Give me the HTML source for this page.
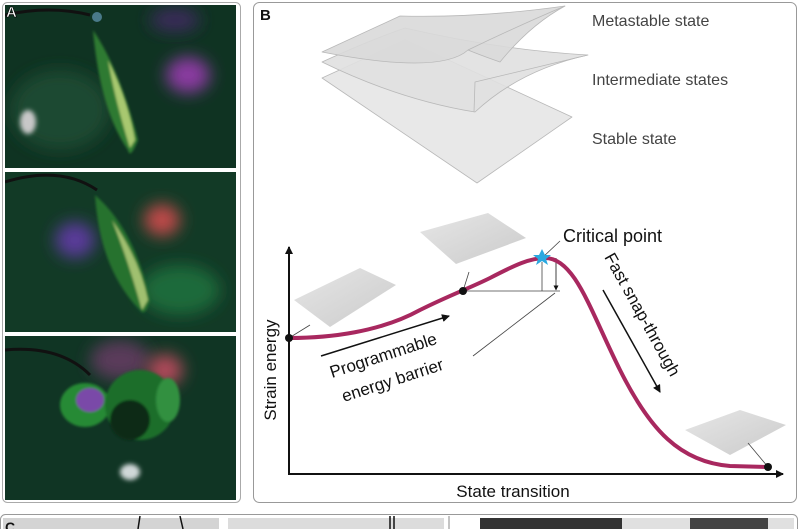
<!DOCTYPE html>
<html><head><style>
html,body{margin:0;padding:0;background:#fff;}
svg{display:block;font-family:"Liberation Sans",Arial,sans-serif;}
</style></head><body>
<svg width="800" height="529" viewBox="0 0 800 529" xmlns="http://www.w3.org/2000/svg">
<defs>
<filter id="b8" x="-50%" y="-50%" width="200%" height="200%"><feGaussianBlur stdDeviation="8"/></filter>
<filter id="b3" x="-50%" y="-50%" width="200%" height="200%"><feGaussianBlur stdDeviation="2.5"/></filter>
<filter id="b1" x="-50%" y="-50%" width="200%" height="200%"><feGaussianBlur stdDeviation="1.2"/></filter>
<clipPath id="p1"><rect x="5" y="5" width="231" height="163"/></clipPath>
<clipPath id="p2"><rect x="5" y="172" width="231" height="160"/></clipPath>
<clipPath id="p3"><rect x="5" y="336" width="231" height="164"/></clipPath>
<marker id="ah" markerWidth="8" markerHeight="8" refX="7" refY="4" orient="auto" markerUnits="userSpaceOnUse"><path d="M0,0 L8,4 L0,8 z" fill="#111"/></marker>
<marker id="ahs" markerWidth="5" markerHeight="5" refX="4.5" refY="2.5" orient="auto" markerUnits="userSpaceOnUse"><path d="M0,0 L5,2.5 L0,5 z" fill="#111"/></marker>
<linearGradient id="sh" x1="0" y1="0" x2="1" y2="1"><stop offset="0" stop-color="#e6e6e6"/><stop offset="1" stop-color="#cbcbcb"/></linearGradient>
</defs>

<!-- Panel A -->
<rect x="2.5" y="2.5" width="238" height="500" rx="5" fill="#fff" stroke="#aaa"/>
<g clip-path="url(#p1)">
 <rect x="5" y="5" width="231" height="163" fill="#0f3322"/>
 <ellipse cx="60" cy="110" rx="50" ry="40" fill="#1f4a30" filter="url(#b8)"/>
 <ellipse cx="28" cy="122" rx="8" ry="12" fill="#c8c8c8" filter="url(#b3)"/>
 <ellipse cx="188" cy="75" rx="22" ry="18" fill="#8a3aa0" filter="url(#b8)"/>
 <ellipse cx="175" cy="20" rx="25" ry="12" fill="#3a2a5a" filter="url(#b8)"/>
 <path d="M5,15 Q50,5 90,15" stroke="#111" stroke-width="3" fill="none"/>
 <circle cx="97" cy="17" r="5" fill="#4a7a8a"/>
 <g filter="url(#b1)">
 <path d="M93,30 Q120,70 138,140 Q130,160 128,150 Q100,110 93,30z" fill="#2e7a30"/>
 <path d="M108,60 Q128,100 135,140 L130,148 Q115,100 108,60z" fill="#a8c870"/>
 </g>
</g>
<g clip-path="url(#p2)">
 <rect x="5" y="172" width="231" height="160" fill="#123a26"/>
 <ellipse cx="75" cy="240" rx="20" ry="18" fill="#5a3a9a" filter="url(#b8)"/>
 <ellipse cx="162" cy="220" rx="18" ry="16" fill="#c04a4a" filter="url(#b8)"/>
 <ellipse cx="180" cy="290" rx="40" ry="25" fill="#1f6a3a" filter="url(#b8)"/>
 <path d="M5,182 Q60,165 97,190" stroke="#111" stroke-width="3" fill="none"/>
 <g filter="url(#b1)">
 <path d="M95,195 Q135,230 150,300 Q145,318 140,310 Q100,270 95,195z" fill="#26722e"/>
 <path d="M112,220 Q140,260 148,300 L142,310 Q128,260 112,220z" fill="#a0c070"/>
 </g>
</g>
<g clip-path="url(#p3)">
 <rect x="5" y="336" width="231" height="164" fill="#103524"/>
 <ellipse cx="120" cy="360" rx="30" ry="20" fill="#5a3a5a" filter="url(#b8)"/>
 <ellipse cx="165" cy="370" rx="18" ry="16" fill="#b04a5a" filter="url(#b8)"/>
 <path d="M5,350 Q60,345 90,375" stroke="#111" stroke-width="3" fill="none"/>
 <g filter="url(#b1)">
 <ellipse cx="85" cy="405" rx="25" ry="22" fill="#258a34"/>
 <ellipse cx="90" cy="400" rx="14" ry="12" fill="#7a4aa8"/>
 <ellipse cx="140" cy="405" rx="35" ry="35" fill="#1c6e2a"/>
 <ellipse cx="130" cy="420" rx="20" ry="20" fill="#0a2a14"/>
 <ellipse cx="168" cy="400" rx="12" ry="22" fill="#32903f"/>
 </g>
 <ellipse cx="130" cy="472" rx="10" ry="8" fill="#d0d8d8" filter="url(#b3)"/>
</g>
<text x="6" y="17" font-size="15" font-weight="bold" fill="#fff" stroke="#000" stroke-width="0.6">A</text>

<!-- Panel B -->
<rect x="253.5" y="2.5" width="543" height="500" rx="6" fill="#fff" stroke="#999"/>
<text x="260" y="20" font-size="15" font-weight="bold" fill="#111">B</text>

<!-- stacked sheets -->
<g stroke="#b8b8b8" stroke-width="0.8" stroke-linejoin="round">
 <path d="M322,78 L405,40 L572,117 L477,183 z" fill="#e8e8e8"/>
 <path d="M322,62 Q370,40 405,28 Q500,50 588,55 Q520,70 475,112 Q400,100 322,62z" fill="#e0e0e0" fill-opacity="0.9"/>
 <path d="M474,112 L475,82 L588,55" fill="none"/>
 <path d="M322,52 Q370,30 400,16 Q480,18 565,6 Q530,25 500,62 Q480,55 468,50 Q440,75 322,52z" fill="#d9d9d9" fill-opacity="0.9"/>
 <path d="M468,50 Q520,25 565,6" fill="none"/>
</g>
<text x="592" y="26" font-size="16" fill="#444">Metastable state</text>
<text x="592" y="85" font-size="16" fill="#444">Intermediate states</text>
<text x="592" y="144" font-size="16" fill="#444">Stable state</text>

<!-- axes -->
<line x1="289" y1="474" x2="289" y2="247" stroke="#111" stroke-width="2" marker-end="url(#ah)"/>
<line x1="288" y1="474" x2="783" y2="474" stroke="#111" stroke-width="2" marker-end="url(#ah)"/>
<text x="276" y="370" font-size="17" fill="#111" text-anchor="middle" transform="rotate(-90 276 370)">Strain energy</text>
<text x="513" y="497" font-size="17" fill="#111" text-anchor="middle">State transition</text>

<!-- small sheets -->
<path d="M294,300 L360,268 L396,285 L330,327 z" fill="url(#sh)"/>
<path d="M420,232 L488,213 L526,238 L456,264 z" fill="url(#sh)"/>
<path d="M685,430 L740,410 L786,425 L730,455 z" fill="url(#sh)"/>
<g stroke="#444" stroke-width="0.8" fill="none">
 <line x1="289" y1="338" x2="310" y2="325"/>
 <line x1="463" y1="291" x2="469" y2="272"/>
 <line x1="768" y1="467" x2="748" y2="443"/>
 <line x1="542" y1="258" x2="560" y2="241"/>
 <line x1="542" y1="262" x2="542" y2="291"/>
 <line x1="463" y1="291" x2="560" y2="291"/>
 <line x1="473" y1="356" x2="555" y2="293"/>
</g>
<line x1="556" y1="258" x2="556" y2="290" stroke="#111" stroke-width="0.8" marker-end="url(#ahs)"/>

<!-- curve -->
<path d="M289,338 C330,338 380,332 420,310 C450,295 470,288 490,278 C515,265 530,258 545,258 C575,258 590,310 620,370 C650,430 680,462 730,466 L768,467" stroke="#a8285f" stroke-width="4" fill="none"/>
<circle cx="289" cy="338" r="4" fill="#111"/>
<circle cx="463" cy="291" r="4" fill="#111"/>
<circle cx="768" cy="467" r="4" fill="#111"/>
<polygon points="542,249 545,255 551,255 546,259 548,265 542,261 536,265 538,259 533,255 539,255" fill="#2aa8e0"/>

<text x="563" y="242" font-size="18" fill="#111">Critical point</text>

<line x1="321" y1="356" x2="449" y2="316" stroke="#111" stroke-width="1.5" marker-end="url(#ah)"/>
<text x="332" y="378" font-size="17" fill="#111" transform="rotate(-18 332 378)">Programmable</text>
<text x="344" y="402" font-size="17" fill="#111" transform="rotate(-18 344 402)">energy barrier</text>

<line x1="603" y1="290" x2="660" y2="392" stroke="#111" stroke-width="1.5" marker-end="url(#ah)"/>
<text x="604" y="257" font-size="17" fill="#111" transform="rotate(61 604 257)">Fast snap-through</text>

<!-- Panel C strip -->
<rect x="0.5" y="514.5" width="797" height="30" rx="5" fill="#fff" stroke="#999"/>
<rect x="3" y="518" width="216" height="14" fill="#d4d4d4"/>
<rect x="228" y="518" width="216" height="14" fill="#dcdcdc"/>
<line x1="449" y1="516" x2="449" y2="529" stroke="#888"/>
<rect x="480" y="518" width="142" height="14" fill="#333"/>
<rect x="622" y="518" width="172" height="14" fill="#e0e0e0"/>
<rect x="690" y="518" width="78" height="14" fill="#444"/>
<text x="5" y="532" font-size="14" font-weight="bold" fill="#111">C</text>
<line x1="140" y1="516" x2="138" y2="529" stroke="#111" stroke-width="1.5"/>
<line x1="180" y1="516" x2="183" y2="529" stroke="#111" stroke-width="1.5"/>
<line x1="390" y1="516" x2="390" y2="529" stroke="#111" stroke-width="1.5"/>
<line x1="394" y1="516" x2="394" y2="529" stroke="#111" stroke-width="1.5"/>
</svg>
</body></html>
